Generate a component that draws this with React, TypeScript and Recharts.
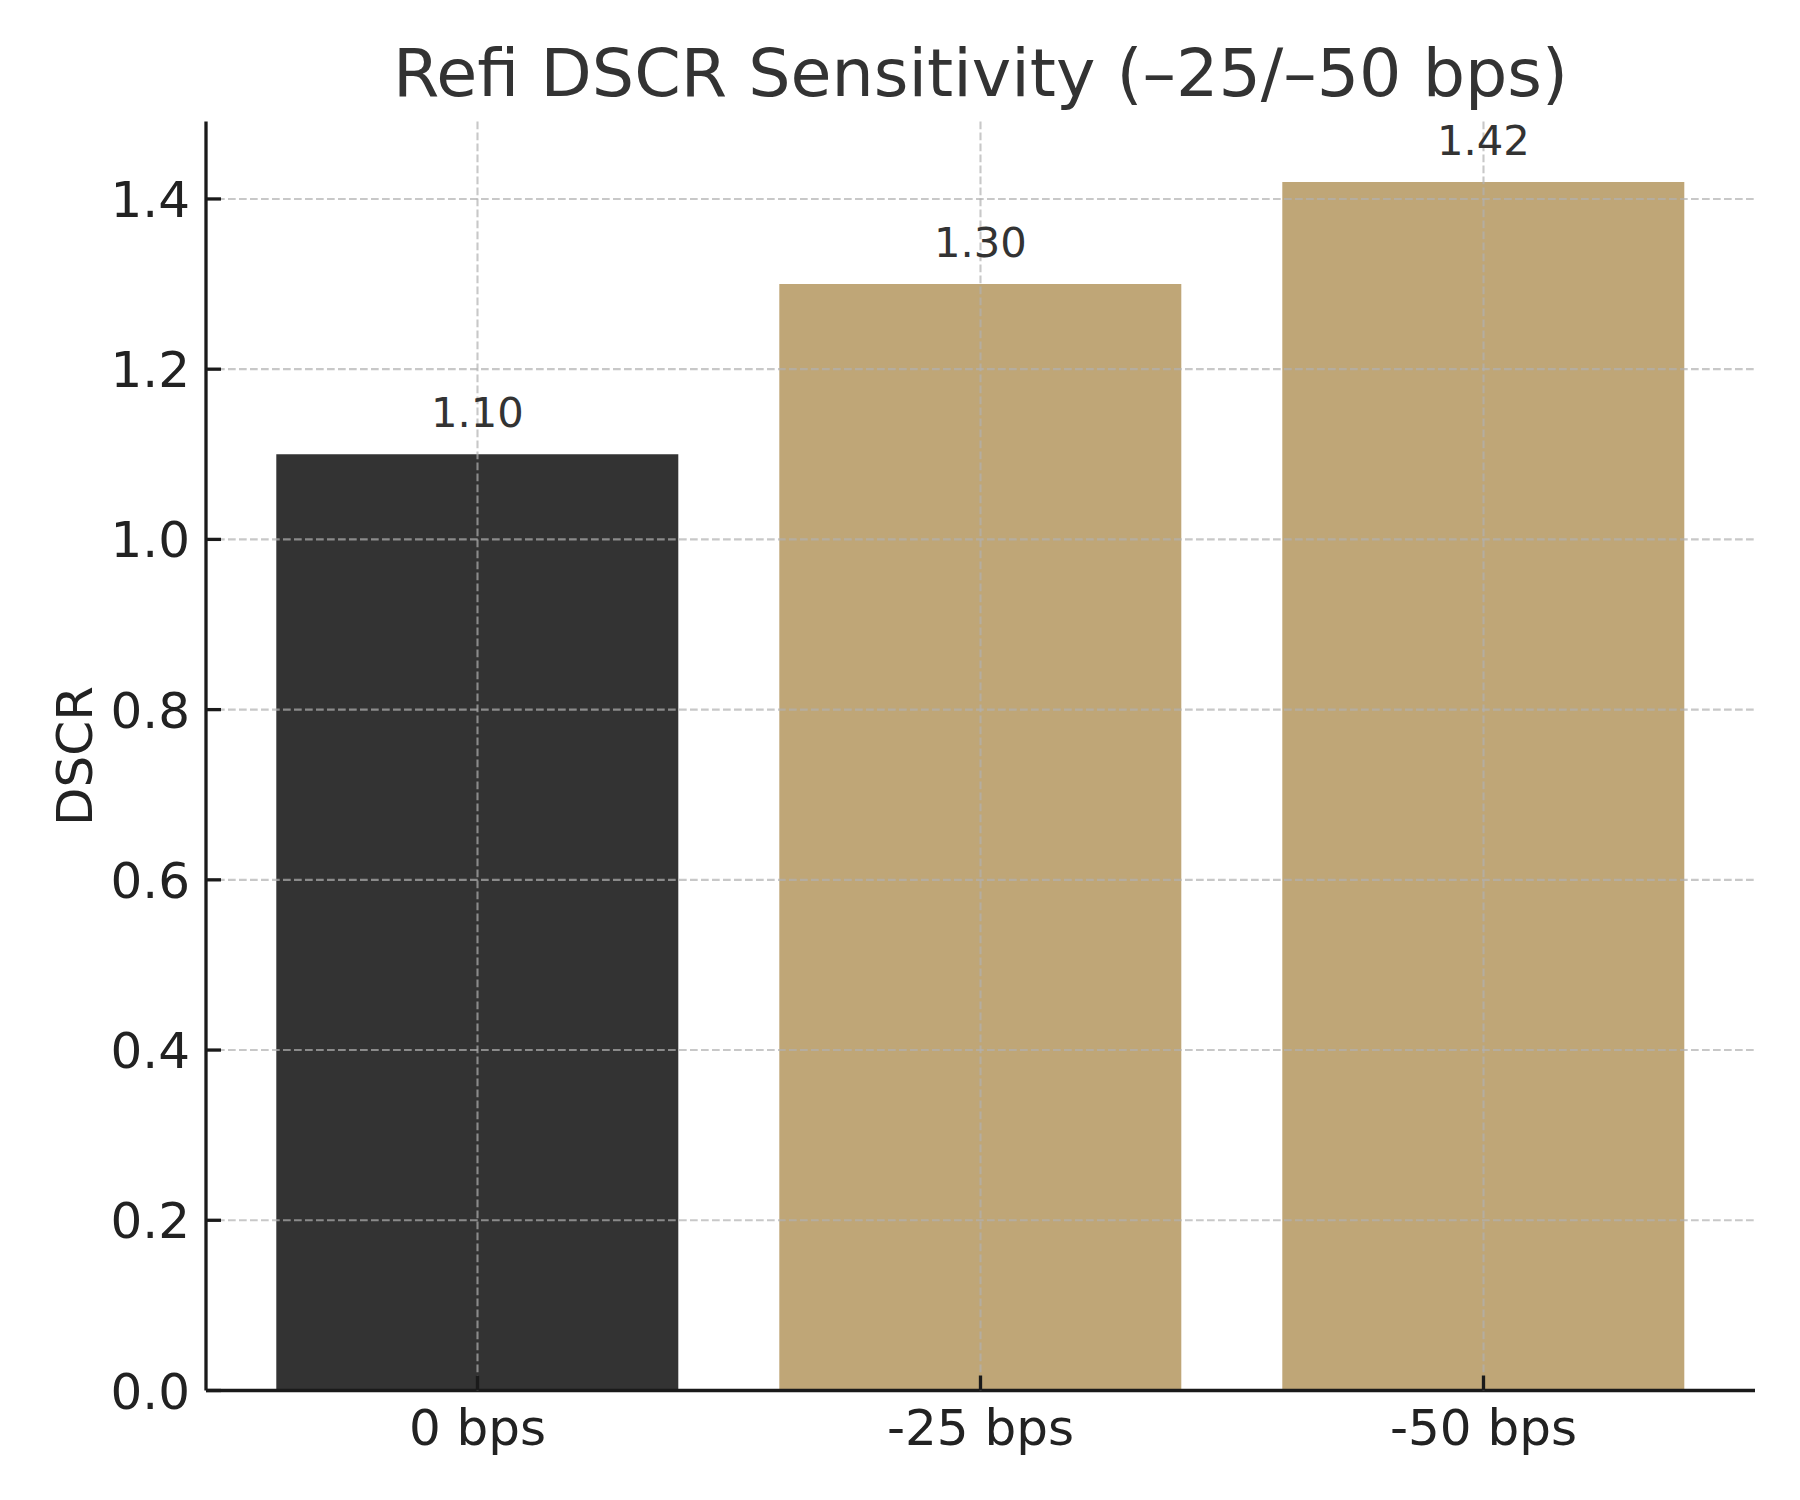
import React from "react"
import { BarChart, Bar, XAxis, YAxis, CartesianGrid, Cell, LabelList } from "recharts"

const categories = ["0 bps", "-25 bps", "-50 bps"]
const dscrValues = [1.1, 1.3, 1.42]
const barColors = ["#333333", "#bfa677", "#bfa677"]
const yTicks = [0, 0.2, 0.4, 0.6, 0.8, 1.0, 1.2, 1.4]

const data = categories.map((name, i) => ({ name, dscr: dscrValues[i] }))

const FONT = "DejaVu Sans"
const W = 1784
const H = 1484

function YTick({ x, y, payload }: any) {
  const axisX = x + 16
  return (
    <g>
      <line x1={axisX} x2={axisX + 15} y1={y} y2={y} stroke="#1a1a1a" strokeWidth={3.3} />
      <text x={x} y={y + 18} textAnchor="end" fontSize={50} fontFamily={FONT} fill="#222">
        {Number(payload.value).toFixed(1)}
      </text>
    </g>
  )
}

function XTick({ x, y, payload }: any) {
  return (
    <g>
      <line x1={x} x2={x} y1={y} y2={y - 15} stroke="#1a1a1a" strokeWidth={3.3} />
      <text x={x} y={y + 54.5} textAnchor="middle" fontSize={50} fontFamily={FONT} fill="#222">
        {payload.value}
      </text>
    </g>
  )
}

function ValueLabel({ x, y, width, value }: any) {
  return (
    <text x={x + width / 2} y={y - 27} textAnchor="middle" fontSize={41.7} fontFamily={FONT} fill="#333">
      {Number(value).toFixed(2)}
    </text>
  )
}

export default function App() {
  return (
    <div style={{ position: "relative", width: W, height: H, background: "#fff" }}>
      <BarChart
        width={W}
        height={H}
        data={data}
        margin={{ top: 113.5, right: 37, left: 0, bottom: 41.5 }}
        barCategoryGap="10%"
      >
        <XAxis
          dataKey="name"
          height={60}
          padding={{ left: 20, right: 20 }}
          axisLine={{ stroke: "#1a1a1a", strokeWidth: 3.3 }}
          tickLine={false}
          tickSize={0}
          tickMargin={0}
          tick={<XTick />}
          interval={0}
        />
        <YAxis
          type="number"
          width={198}
          domain={[0, 1.491]}
          ticks={yTicks}
          axisLine={{ stroke: "#1a1a1a", strokeWidth: 3.3 }}
          tickLine={false}
          tickSize={0}
          tickMargin={16}
          tick={<YTick />}
          allowDataOverflow
        />
        <Bar dataKey="dscr" isAnimationActive={false}>
          {data.map((_, i) => (
            <Cell key={i} fill={barColors[i]} />
          ))}
          <LabelList dataKey="dscr" content={<ValueLabel />} />
        </Bar>
        <CartesianGrid
          stroke="#b0b0b0"
          strokeOpacity={0.7}
          strokeWidth={2.1}
          strokeDasharray="7.7 3.3"
          syncWithTicks
          horizontalValues={yTicks.filter((v) => v > 0)}
          zIndex={600}
        />
      </BarChart>
      <svg
        width={W}
        height={H}
        style={{ position: "absolute", left: 0, top: 0, pointerEvents: "none" }}
      >
        <text x={972.5} y={87.7} textAnchor="middle" fontSize={66.7} fontFamily={FONT} fill="#333">
          Refi DSCR Sensitivity (–25/–50 bps)
        </text>
        <text
          transform="translate(84,748) rotate(-90)"
          textAnchor="middle"
          fontSize={50}
          fontFamily={FONT}
          fill="#222"
        >
          DSCR
        </text>
      </svg>
    </div>
  )
}
